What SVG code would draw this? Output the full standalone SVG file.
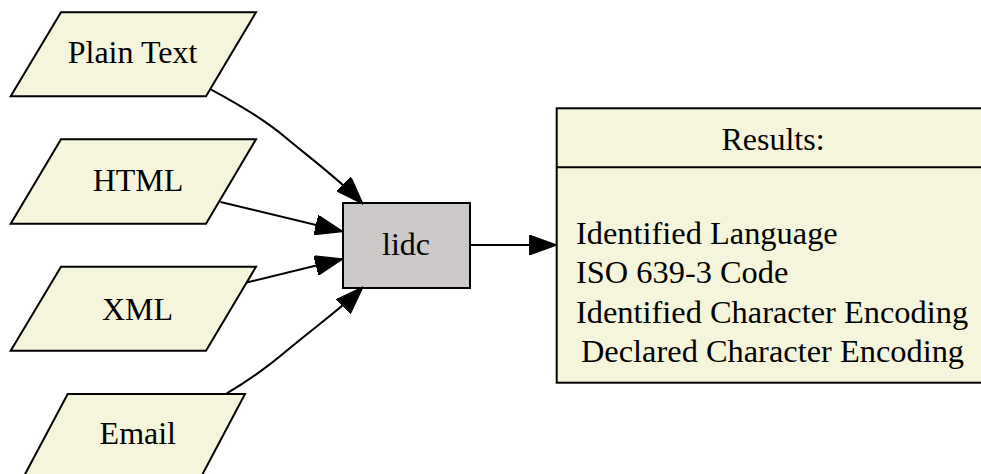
<svg xmlns="http://www.w3.org/2000/svg" width="981" height="474" viewBox="0 0 981 474">
<defs>
<marker id="arr" markerUnits="userSpaceOnUse" markerWidth="28" markerHeight="20" viewBox="0 0 25 18" refX="25" refY="9" orient="auto">
<path d="M0,0 L25,9 L0,18 Z" fill="#000" stroke="#000" stroke-width="1"/>
</marker>
<style>
.io{fill:#f5f5dc;stroke:#000;stroke-width:2}
.proc{fill:#cdc9c9;stroke:#000;stroke-width:2}
.t{font-family:"Liberation Serif","Times New Roman",serif;font-size:32px;fill:#000}
.r{font-size:32.4px}
.c{text-anchor:middle}
.e{fill:none;stroke:#000;stroke-width:2;marker-end:url(#arr)}
</style>
</defs>
<rect width="981" height="474" fill="#fff"/>
<g id="plaintext">
<polygon class="io" points="61,12.3 256,12.3 206,96.3 10.7,96.3"/>
<text class="t c" x="132.5" y="63.3">Plain Text</text>
</g>
<g id="html">
<polygon class="io" points="61,139.3 256,139.3 206,223.7 10.7,223.7"/>
<text class="t c" x="138" y="191">HTML</text>
</g>
<g id="xml">
<polygon class="io" points="61,266.7 256,266.7 206,350.7 10.7,350.7"/>
<text class="t c" x="137.5" y="320">XML</text>
</g>
<g id="email">
<polygon class="io" points="67.7,394 245,394 200.5,478 23,478"/>
<text class="t c" x="137.8" y="444.3">Email</text>
</g>
<g id="lidc">
<rect class="proc" x="343" y="203" width="127" height="85"/>
<text class="t c" x="406" y="255">lidc</text>
</g>
<g id="results">
<rect class="io" x="556.7" y="108.3" width="432" height="274.4"/>
<line x1="556.7" y1="167.3" x2="990" y2="167.3" stroke="#000" stroke-width="2"/>
<text class="t c" x="773" y="150">Results:</text>
<text class="t r" x="576" y="244.3">Identified Language</text>
<text class="t r" x="576" y="283.3">ISO 639-3 Code</text>
<text class="t r" x="576" y="322.7">Identified Character Encoding</text>
<text class="t r c" x="772.5" y="362.3">Declared Character Encoding</text>
</g>
<g id="connectors">
<path class="e" d="M210.7,89.3 C240,105 265,120 285,137 C310,158 340,180 363,204"/>
<path class="e" d="M220.5,202 L343,231.5"/>
<path class="e" d="M246.7,282.5 L343,259"/>
<path class="e" d="M226.7,393.3 C250,380 270,365 290,348 C315,327 343,307 363,287"/>
<path class="e" d="M470.3,245 L557,245"/>
</g>
</svg>
